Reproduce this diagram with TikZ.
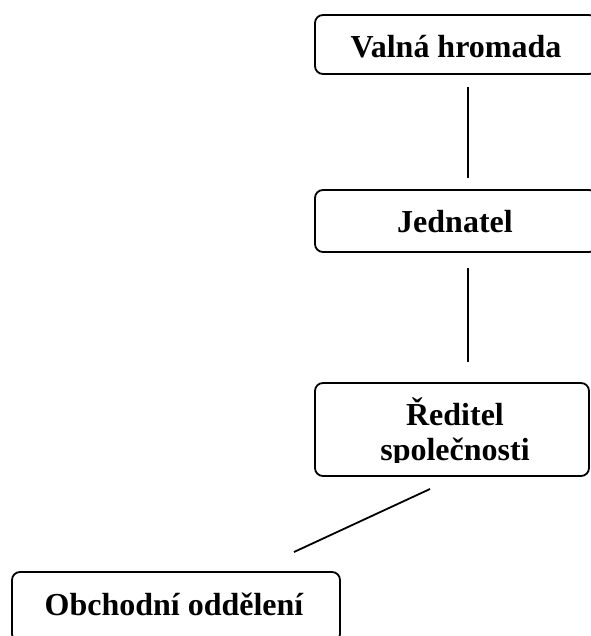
\documentclass[tikz,border=0pt]{standalone}
\usepackage{fontspec}
\setmainfont{Liberation Serif}
\begin{document}
\begin{tikzpicture}[x=1pt,y=-1pt,
  orgbox/.style={draw=black, line width=1.8pt, rounded corners=8pt, inner sep=0pt},
  orglabel/.style={anchor=base, inner sep=0pt, font=\fontsize{32}{35}\selectfont\bfseries},
  link/.style={draw=black, line width=1.8pt}]
\useasboundingbox (0,0) rectangle (590,636);

% boxes (the first two and the last one run past the page edge)
\node[orgbox, minimum width=282pt, minimum height=59pt] (vh) at (456,44.5) {};
\node[orgbox, minimum width=282pt, minimum height=62pt] (jd) at (456,221) {};
\node[orgbox, minimum width=274pt, minimum height=93pt] (rs) at (452,429.5) {};
\node[orgbox, minimum width=328pt, minimum height=70pt] (oo) at (176,607) {};

% labels
\node[orglabel] (vhl) at (456,58) {Valná hromada};
\node[orglabel] (jdl) at (455,233) {Jednatel};
\begin{scope}
  \clip (315,383) rectangle (589,462.5);
  \node[orglabel] (rsl1) at (455,425) {Ředitel};
  \node[orglabel] (rsl2) at (455,460) {společnosti};
\end{scope}
\node[orglabel] (ool) at (174,615) {Obchodní oddělení};

% connector ends
\coordinate (c1a) at (468,87);
\coordinate (c1b) at (468,178);
\coordinate (c2a) at (468,268);
\coordinate (c2b) at (468,362);
\coordinate (c3a) at (430,489);
\coordinate (c3b) at (294,552);

\draw[link] (c1a) -- (c1b);
\draw[link] (c2a) -- (c2b);
\draw[link] (c3a) -- (c3b);
\end{tikzpicture}
\end{document}
